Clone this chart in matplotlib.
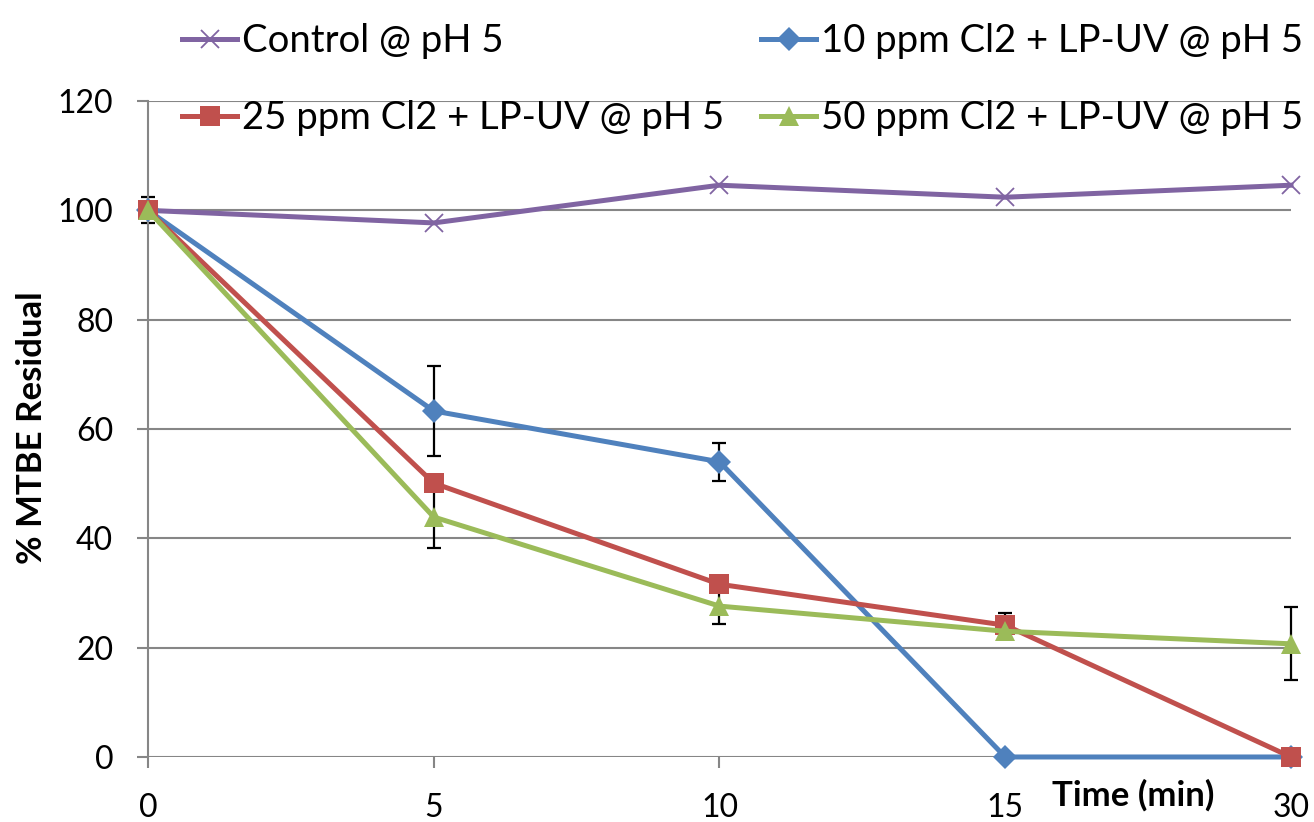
import matplotlib.pyplot as plt
import numpy as np

plt.rcParams['font.family'] = ['Lato', 'DejaVu Sans']

# ------------------ Data ------------------
time_labels = ["0", "5", "10", "15", "30"]

control = [100.0, 97.7, 104.6, 102.4, 104.6]
cl2_10 = [100.0, 63.3, 54.0, 0.0, 0.0]
cl2_25 = [100.0, 50.1, 31.6, 24.1, 0.0]
cl2_50 = [100.0, 43.9, 27.6, 23.0, 20.7]

control_err = [2.4, 0, 0, 0, 0]
cl2_10_err = [0, 8.2, 3.5, 0, 0]
cl2_25_err = [0, 0, 0, 2.3, 0]
cl2_50_err = [0, 5.7, 3.3, 0, 6.7]

SERIES = [
    ("Control @ pH 5", control, control_err, "#8064A2", "x", 13),
    ("10 ppm Cl2 + LP-UV @ pH 5", cl2_10, cl2_10_err, "#4F81BD", "D", 12),
    ("25 ppm Cl2 + LP-UV @ pH 5", cl2_25, cl2_25_err, "#C0504D", "s", 14),
    ("50 ppm Cl2 + LP-UV @ pH 5", cl2_50, cl2_50_err, "#9BBB59", "^", 15),
]

fig = plt.figure(figsize=(13.14, 8.22), dpi=100)
ax = fig.add_axes([0.1126, 0.0791, 0.8699, 0.798])
x = np.arange(len(time_labels))

handles = {}
for label, vals, err, color, marker, ms in SERIES:
    err = np.array(err, dtype=float)
    mask = err > 0
    if mask.any():
        eb = ax.errorbar(x[mask], np.array(vals)[mask], yerr=err[mask], fmt="none",
                         ecolor="black", elinewidth=1.6, capsize=5, capthick=1.6, zorder=2)
        for art in eb.lines[1] + eb.lines[2]:
            art.set_clip_on(False)
    mew = 1.3 if marker == "x" else 0
    h, = ax.plot(x, vals, color=color, lw=3.6, marker=marker, markersize=ms,
                 markeredgewidth=mew, markeredgecolor=color, zorder=3, label=label,
                 clip_on=False)
    handles[label] = h

ax.set_xlim(0, len(time_labels) - 1)
ax.set_ylim(0, 120)
ax.set_yticks(np.arange(0, 121, 20))
ax.set_xticks(x)
ax.set_xticklabels(time_labels)
ax.yaxis.grid(True, color="#868686", lw=1.5)
ax.set_axisbelow(True)
for s in ["top", "right", "bottom"]:
    ax.spines[s].set_visible(False)
ax.spines["left"].set_color("#868686")
ax.spines["left"].set_linewidth(1.5)
ax.tick_params(axis="y", direction="out", length=8, width=1.5, color="#868686",
               labelsize=23, pad=17)
ax.tick_params(axis="x", direction="out", length=8, width=1.5, color="#868686",
               labelsize=23, pad=18)

fig.text(32 / 1314, 1 - 428 / 822, "% MTBE Residual", rotation=90, ha="center",
         va="center", fontsize=25, fontweight="bold")
ax.text(0.862, -0.058, "Time (min)", transform=ax.transAxes, ha="center",
        va="center", fontsize=25, fontweight="bold")

order = ["Control @ pH 5", "25 ppm Cl2 + LP-UV @ pH 5",
         "10 ppm Cl2 + LP-UV @ pH 5", "50 ppm Cl2 + LP-UV @ pH 5"]
fig.legend([handles[k] for k in order], order, loc="upper left",
           bbox_to_anchor=(182 / 1314, 1 - 23 / 822), ncol=2, frameon=False,
           fontsize=27.5, handlelength=1.45, handletextpad=0.13, columnspacing=0.95,
           labelspacing=1.08, borderaxespad=0, borderpad=0)

fig.savefig("out.png", dpi=100)
